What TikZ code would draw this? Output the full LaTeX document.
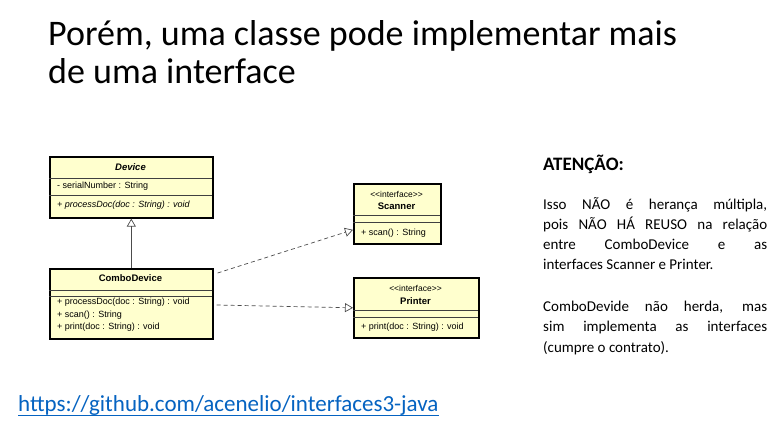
\documentclass[tikz,border=0pt]{standalone}
\usepackage{fontspec}
\setmainfont{Carlito}
\newfontfamily\umlfont{Liberation Sans}
\usetikzlibrary{arrows.meta,positioning}
\definecolor{umlfill}{RGB}{255,255,206}
\definecolor{linkblue}{RGB}{5,99,193}

\begin{document}
\begin{tikzpicture}[
        x=1pt, y=-1pt,
        classbox/.style={draw, line width=1.6pt, fill=umlfill, anchor=north west, inner sep=0pt},
        divider/.style={draw=black!75, line width=0.7pt},
        classname/.style={inner sep=0pt, font=\umlfont\fontsize{9.5}{11}\selectfont\bfseries},
        stereo/.style={inner sep=0pt, font=\umlfont\fontsize{8.5}{10}\selectfont},
        member/.style={anchor=west, inner sep=0pt, font=\umlfont\fontsize{9}{10}\selectfont},
        extends/.style={draw=black!70, line width=0.7pt, -{Triangle[open, length=8pt, width=9pt]}},
        realizes/.style={extends, dash pattern=on 4pt off 3pt},
        slidetext/.style={anchor=base west, inner sep=0pt}
    ]
        \fill[white] (0,0) rectangle (780,424);
        \useasboundingbox (0,0) rectangle (780,424);

        \node[slidetext, font=\fontsize{36}{38}\selectfont] (title1) at (48,45) {Porém, uma classe pode implementar mais};
        \node[slidetext, font=\fontsize{36}{38}\selectfont] (title2) at (48,83) {de uma interface};

        \node[classbox, minimum width=163pt, minimum height=61pt] (device) at (49,156) {};
        \draw[divider] (49,178) -- (212,178) (49,195) -- (212,195);
        \node[classname, font=\umlfont\fontsize{9.5}{11}\selectfont\bfseries\itshape] (devicename) at (130.5,167) {Device};
        \node[member] (serial) at (57,186.5) {- serialNumber : String};
        \node[member, font=\umlfont\fontsize{9}{10}\selectfont\itshape] (deviceop) at (57,205.5) {+ processDoc(doc : String) : void};

        \node[classbox, minimum width=163pt, minimum height=70pt] (combo) at (49,268) {};
        \draw[divider] (49,290) -- (212,290) (49,296) -- (212,296);
        \node[classname] (comboname) at (130.5,278.5) {ComboDevice};
        \node[member] (comboop1) at (57,302.5) {+ processDoc(doc : String) : void};
        \node[member] (comboop2) at (57,315) {+ scan() : String};
        \node[member] (comboop3) at (57,327.5) {+ print(doc : String) : void};

        \node[classbox, minimum width=87pt, minimum height=60pt] (scanner) at (353,183) {};
        \draw[divider] (353,215) -- (440,215) (353,222) -- (440,222);
        \node[stereo] (scannerstereo) at (396.5,194.5) {<<interface>>};
        \node[classname] (scannername) at (396.5,206.5) {Scanner};
        \node[member] (scannerop) at (361,233) {+ scan() : String};

        \node[classbox, minimum width=125pt, minimum height=60pt] (printer) at (353,277) {};
        \draw[divider] (353,310) -- (478,310) (353,317) -- (478,317);
        \node[stereo] (printerstereo) at (415.5,288.5) {<<interface>>};
        \node[classname] (printername) at (415.5,301) {Printer};
        \node[member] (printerop) at (361,327.5) {+ print(doc : String) : void};

        \draw[extends] (combo.north) -- (device.south);
        \draw[realizes] ([shift={(4,5)}]combo.north east) -- ([shift={(0,16)}]scanner.west);
        \draw[realizes] ([shift={(3,37)}]combo.north east) -- (printer.west);

        \node[slidetext, font=\fontsize{19}{22}\selectfont\bfseries] (attention) at (543,170) {ATENÇÃO:};
        \node[slidetext, text width=224pt, align=justify, font=\fontsize{15}{20}\selectfont] (note1) at (543,209)
            {Isso NÃO é herança múltipla,\linebreak pois NÃO HÁ REUSO na relação\linebreak entre ComboDevice e as\linebreak interfaces Scanner e Printer.};
        \node[slidetext, text width=224pt, align=justify, font=\fontsize{15}{20.5}\selectfont] (note2) at (543,311)
            {ComboDevide não herda, mas\linebreak sim implementa as interfaces\linebreak (cumpre o contrato).};

        \node[slidetext, text=linkblue, font=\fontsize{23}{26}\selectfont] (link) at (18,411) {https://github.com/acenelio/interfaces3-java};
        \draw[linkblue, line width=1.3pt] ([yshift=-4.5pt]link.base west) -- ([yshift=-4.5pt]link.base east);
    \end{tikzpicture}
\end{document}
